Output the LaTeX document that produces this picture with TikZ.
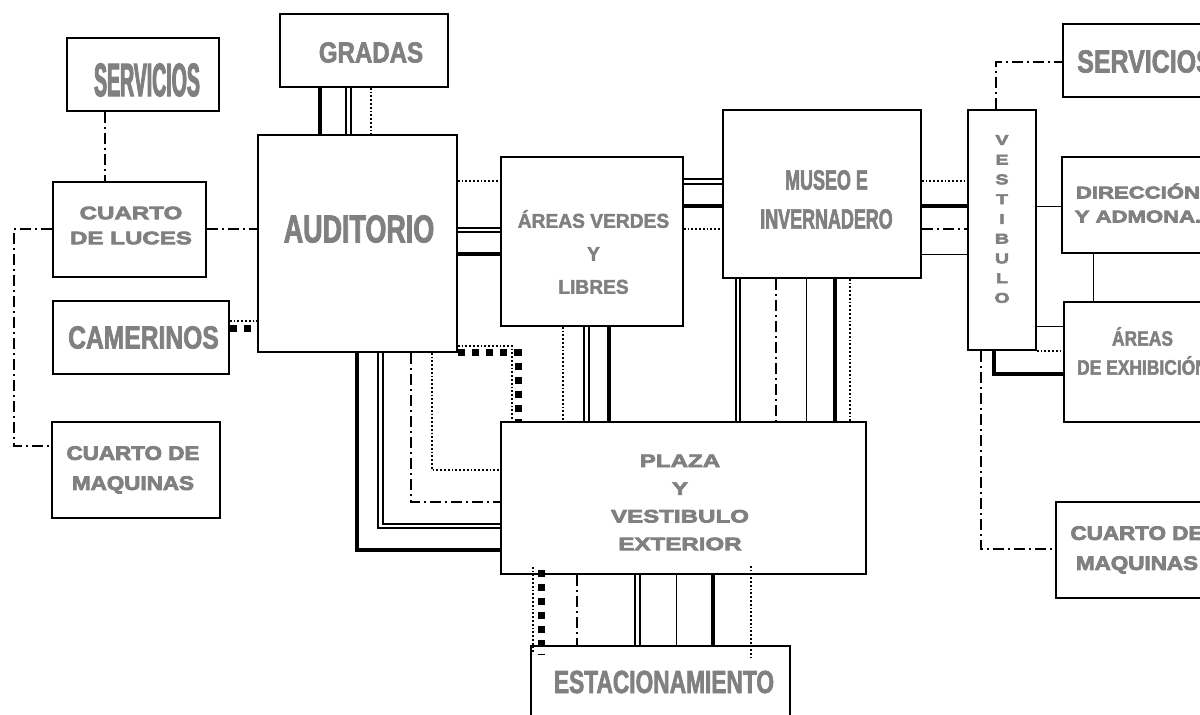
\documentclass[tikz,border=0pt]{standalone}
\usepackage{fontspec}
\setmainfont{Liberation Sans}
\usepackage{tikz}
\definecolor{lblgray}{RGB}{128,128,128}
\newcommand\lblfont[2]{\fontspec{Liberation Sans Bold}[FakeStretch=#1,FakeBold=#2]}
\tikzstyle{box} = [draw, line width=1.6pt, inner sep=0pt]
\tikzstyle{thk} = [line width=3.4pt]
\tikzstyle{thn} = [line width=0.8pt]
\tikzstyle{dbl} = [double, line width=2pt, double distance=2.2pt]
\tikzstyle{dots} = [line width=1.8pt, dash pattern=on 1.8pt off 2pt]
\tikzstyle{dashdot} = [line width=1.6pt, dash pattern=on 11pt off 4pt on 2pt off 4pt]
\tikzstyle{sq} = [line width=7pt, dash pattern=on 7pt off 7pt]
\tikzset{
  lbl/.style n args={3}{font={\lblfont{#3}{2}\fontsize{#1}{#2}\selectfont}, text=lblgray, align=center, inner sep=0pt},
  lblw/.style n args={3}{font={\lblfont{#3}{4}\fontsize{#1}{#2}\selectfont}, text=lblgray, align=center, inner sep=0pt},
}

\begin{document}
\begin{tikzpicture}[x=1pt, y=-1pt]
    \fill[white] (0,0) rectangle (1200,715);
    \useasboundingbox (0,0) rectangle (1200,715);

    % boxes
    \node[box, minimum width=152pt, minimum height=73pt] (servL) at (143,74.5) {};
    \node[box, minimum width=153pt, minimum height=95pt] (cluces) at (129.5,229.5) {};
    \node[box, minimum width=176pt, minimum height=73pt] (camer) at (141,337.5) {};
    \node[box, minimum width=168pt, minimum height=96pt] (cmaqL) at (136,470) {};
    \node[box, minimum width=168pt, minimum height=73pt] (gradas) at (364,50.5) {};
    \node[box, minimum width=199pt, minimum height=217pt] (aud) at (357.5,243.5) {};
    \node[box, minimum width=182pt, minimum height=169pt] (verdes) at (592,241.5) {};
    \node[box, minimum width=198pt, minimum height=168pt] (museo) at (822,194) {};
    \node[box, minimum width=68pt, minimum height=240pt] (vest) at (1002,230) {};
    \node[box, minimum width=164pt, minimum height=73pt] (servR) at (1145,60.5) {};
    \node[box, minimum width=152pt, minimum height=96pt] (direc) at (1138,205) {};
    \node[box, minimum width=157pt, minimum height=120pt] (exhib) at (1142.5,362) {};
    \node[box, minimum width=162pt, minimum height=96pt] (cmaqR) at (1137,550) {};
    \node[box, minimum width=365pt, minimum height=152pt] (plaza) at (683.5,498) {};
    \node[box, minimum width=259pt, minimum height=72pt] (estac) at (660.5,682) {};

    % labels
    \node[lbl={47}{50}{0.415}] (servL-t) at (147,80) {SERVICIOS};
    \node[lbl={29}{32}{0.83}] (gradas-t) at (371,52.5) {GRADAS};
    \node[lbl={39}{42}{0.69}] (aud-t) at (359,229) {AUDITORIO};
    \node[lbl={32}{35}{0.77}] (camer-t) at (143.5,337.5) {CAMERINOS};
    \node[lblw={18}{25}{1.34}] (cluces-t) at (131,225.5) {CUARTO\\DE LUCES};
    \node[lblw={19.5}{30}{1.15}] (cmaqL-t) at (133,470) {CUARTO DE\\MAQUINAS};
    \node[lbl={20}{33}{0.96}] (verdes-t) at (593.5,252) {ÁREAS VERDES\\Y\\LIBRES};
    \node[lbl={28}{39}{0.64}] (museo-t) at (826.5,199.5) {MUSEO E\\INVERNADERO};
    \node[lblw={14}{19.75}{1.4}] (vest-t) at (1002,219) {V\\E\\S\\T\\I\\B\\U\\L\\O};
    \node[lbl={32}{35}{0.78}] (servR-t) at (1145,61.5) {SERVICIOS};
    \node[lblw={17}{24}{1.3}] (direc-t) at (1138,203) {DIRECCIÓN\\Y ADMONA.};
    \node[lbl={21}{29}{0.83}] (exhib-t) at (1142.5,351) {ÁREAS\\DE EXHIBICIÓN};
    \node[lblw={19.5}{30}{1.15}] (cmaqR-t) at (1137,550) {CUARTO DE\\MAQUINAS};
    \node[lblw={18}{27.7}{1.34}] (plaza-t) at (680,502.5) {PLAZA\\Y\\VESTIBULO\\EXTERIOR};
    \node[lbl={32}{35}{0.71}] (estac-t) at (664,682) {ESTACIONAMIENTO};

    % left side
    \draw[dashdot] (servL.south -| 105,0) -- (cluces.north -| 105,0);
    \draw[dashdot] (cluces.east |- 0,229) -- (aud.west |- 0,229);
    \draw[dashdot] (cluces.west |- 0,229) -| (14,446) -- (cmaqL.west |- 0,446);
    \draw[dots] (camer.east |- 0,321) -- (aud.west |- 0,321);
    \draw[sq] (camer.east |- 0,328) -- (aud.west |- 0,328);

    % gradas - auditorio
    \draw[thk] (gradas.south -| 320,0) -- (aud.north -| 320,0);
    \draw[dbl] (gradas.south -| 348.5,0) -- (aud.north -| 348.5,0);
    \draw[dots] (gradas.south -| 371,0) -- (aud.north -| 371,0);

    % auditorio - areas verdes - museo - vestibulo
    \draw[dots] (aud.east |- 0,181) -- (verdes.west |- 0,181);
    \draw[dbl] (aud.east |- 0,230) -- (verdes.west |- 0,230);
    \draw[thk] (aud.east |- 0,254) -- (verdes.west |- 0,254);
    \draw[dbl] (verdes.east |- 0,181.5) -- (museo.west |- 0,181.5);
    \draw[thk] (verdes.east |- 0,206) -- (museo.west |- 0,206);
    \draw[dots] (verdes.east |- 0,229) -- (museo.west |- 0,229);
    \draw[dots] (museo.east |- 0,181) -- (vest.west |- 0,181);
    \draw[thk] (museo.east |- 0,206) -- (vest.west |- 0,206);
    \draw[dashdot] (museo.east |- 0,229) -- (vest.west |- 0,229);
    \draw[thn] (museo.east |- 0,254) -- (vest.west |- 0,254);

    % right side
    \draw[dashdot] (vest.north -| 996,0) |- (servR.west |- 0,62);
    \draw[thn] (vest.east |- 0,206) -- (direc.west |- 0,206);
    \draw[thn] (direc.south -| 1093,0) -- (exhib.north -| 1093,0);
    \draw[thn] (vest.east |- 0,326) -- (exhib.west |- 0,326);
    \draw[dots] (vest.south east) -- (exhib.west |- vest.south east);
    \draw[thk] (vest.south -| 994,0) |- (exhib.west |- 0,374);
    \draw[dashdot] (vest.south -| 981,0) |- (cmaqR.west |- 0,549);

    % auditorio - plaza
    \draw[thk] (aud.south -| 357,0) |- (plaza.west |- 0,550);
    \draw[dbl] (aud.south -| 380.5,0) |- (plaza.west |- 0,526);
    \draw[dashdot] (aud.south -| 411,0) |- (plaza.west |- 0,502);
    \draw[dots] (aud.south -| 432,0) |- (plaza.west |- 0,470);
    \draw[dots] ([yshift=7pt]aud.south east) -| (plaza.north -| 512,0);
    \draw[sq] (aud.south east) -| (plaza.north -| 518,0);

    % areas verdes / museo - plaza
    \draw[dots] (verdes.south -| 563,0) -- (plaza.north -| 563,0);
    \draw[dbl] (verdes.south -| 586.5,0) -- (plaza.north -| 586.5,0);
    \draw[thk] (verdes.south -| 609,0) -- (plaza.north -| 609,0);
    \draw[dbl] (museo.south -| 738,0) -- (plaza.north -| 738,0);
    \draw[dashdot] (museo.south -| 776,0) -- (plaza.north -| 776,0);
    \draw[thn] (museo.south -| 806,0) -- (plaza.north -| 806,0);
    \draw[thk] (museo.south -| 835,0) -- (plaza.north -| 835,0);
    \draw[dots] (museo.south -| 850,0) -- (plaza.north -| 850,0);

    % plaza - estacionamiento
    \draw[dots] ([yshift=8pt]plaza.south -| 533,0) -- ([yshift=-9pt]estac.north -| 533,0);
    \draw[sq] ([yshift=5pt]plaza.south -| 541,0) -- ([yshift=-9pt]estac.north -| 541,0);
    \draw[dashdot] (plaza.south -| 577,0) -- (estac.north -| 577,0);
    \draw[dbl] (plaza.south -| 637.5,0) -- (estac.north -| 637.5,0);
    \draw[thn] (plaza.south -| 676,0) -- (estac.north -| 676,0);
    \draw[thk] (plaza.south -| 713,0) -- (estac.north -| 713,0);
    \draw[dots] ([yshift=9pt]plaza.south -| 751,0) -- ([yshift=-12pt]estac.north -| 751,0);
\end{tikzpicture}
\end{document}
